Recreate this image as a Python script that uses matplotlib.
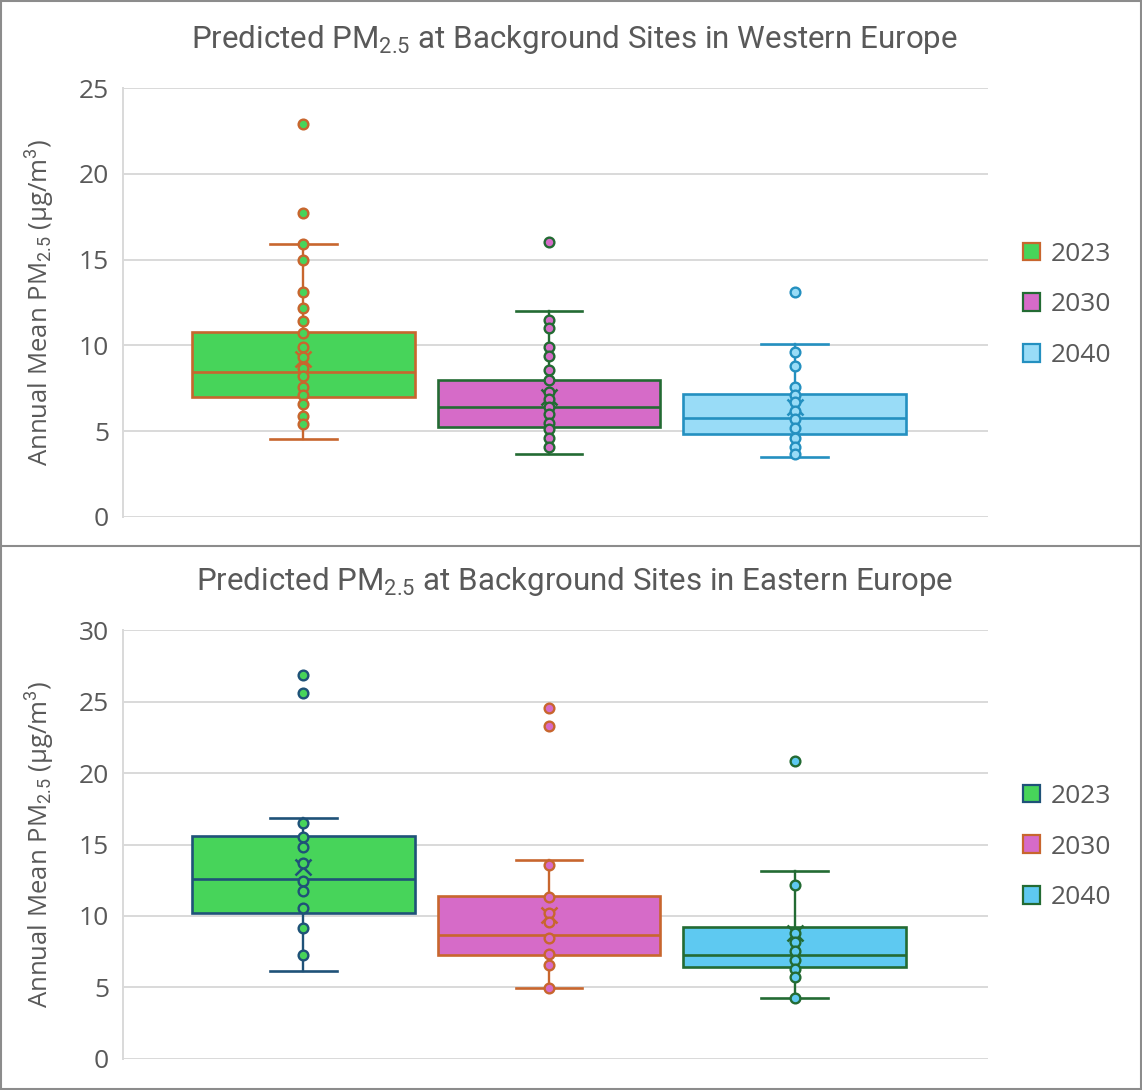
import matplotlib
matplotlib.use("Agg")
import matplotlib.pyplot as plt
from matplotlib.patches import Patch, Rectangle
from matplotlib.lines import Line2D

plt.rcParams['font.family'] = ['Open Sans', 'DejaVu Sans']
plt.rcParams['mathtext.fontset'] = 'custom'
plt.rcParams['mathtext.rm'] = 'Roboto'
plt.rcParams['mathtext.it'] = 'Roboto:italic'
plt.rcParams['mathtext.bf'] = 'Roboto:bold'

years = ["2023", "2030", "2040"]

# Western Europe: box statistics per year
west_q1 = [6.99, 5.26, 4.85]
west_median = [8.47, 6.41, 5.79]
west_q3 = [10.76, 7.97, 7.19]
west_whislo = [4.56, 3.69, 3.50]
west_whishi = [15.93, 12.02, 10.10]
west_mean = [9.19, 7.01, 6.43]
west_points_2023 = [22.9, 17.7, 15.9, 15.0, 13.1, 12.2, 11.4, 10.7, 9.9, 9.3,
                    8.7, 8.2, 7.6, 7.1, 6.6, 5.9, 5.4]
west_points_2030 = [16.0, 11.5, 11.0, 9.9, 9.4, 8.55, 8.0, 7.3, 6.9, 6.4,
                    6.0, 5.5, 5.1, 4.6, 4.1]
west_points_2040 = [13.1, 9.6, 8.8, 7.6, 7.1, 6.7, 6.2, 5.7, 5.2, 4.6, 4.1, 3.65]

# Eastern Europe: box statistics per year
east_q1 = [10.22, 7.24, 6.44]
east_median = [12.6, 8.69, 7.28]
east_q3 = [15.6, 11.39, 9.24]
east_whislo = [6.12, 4.93, 4.25]
east_whishi = [16.88, 13.89, 13.12]
east_mean = [13.45, 10.06, 8.78]
east_points_2023 = [26.9, 25.6, 16.5, 15.55, 14.85, 13.7, 12.45, 11.75, 10.55,
                    9.15, 7.25]
east_points_2030 = [24.55, 23.3, 13.55, 11.35, 10.2, 9.6, 8.45, 7.35, 6.55, 4.93]
east_points_2040 = [20.85, 12.15, 8.8, 8.2, 7.55, 6.9, 6.3, 5.7, 4.25]

west_ticks = [0, 5, 10, 15, 20, 25]
east_ticks = [0, 5, 10, 15, 20, 25, 30]

west_fill = ['#47D45A', '#D66BC8', '#99DCF7']
west_edge = ['#C8662E', '#236B33', '#2490C0']
east_fill = ['#47D45A', '#D66BC8', '#5EC9F1']
east_edge = ['#1F5278', '#C8662E', '#236B33']

TEXT = '#595959'
GRID = '#D9D9D9'

W, H = 1142, 1090
fig = plt.figure(figsize=(W / 100, H / 100), dpi=100)


def fx(px):
    return px / W


def fy(py):
    return 1 - py / H


AX_LEFT, AX_RIGHT = 123, 988


def panel(ax, title, q1, med, q3, lo, hi, mean, points, ticks, fills, edges,
          title_base, legend_y):
    positions = [0, 1, 2]
    for i in range(3):
        stats = [dict(q1=q1[i], med=med[i], q3=q3[i], whislo=lo[i],
                      whishi=hi[i], mean=mean[i], fliers=[])]
        ec = edges[i]
        ax.bxp(stats, positions=[positions[i]], widths=0.908, capwidths=0.27,
               patch_artist=True, showmeans=True, showfliers=False,
               boxprops=dict(facecolor=fills[i], edgecolor=ec, linewidth=1.9),
               medianprops=dict(color=ec, linewidth=1.9),
               whiskerprops=dict(color=ec, linewidth=1.7),
               capprops=dict(color=ec, linewidth=1.9),
               meanprops=dict(marker='x', markeredgecolor=ec, markersize=12,
                              markeredgewidth=1.8),
               zorder=3)
        ax.plot([positions[i]] * len(points[i]), points[i], linestyle='none',
                marker='o', markersize=7, markerfacecolor=fills[i],
                markeredgecolor=ec, markeredgewidth=1.7, zorder=4)
    ax.set_xlim(-0.735, 2.788)
    ax.set_ylim(ticks[0], ticks[-1])
    ax.set_yticks(ticks)
    ax.set_yticklabels([str(t) for t in ticks])
    ax.set_xticks([])
    ax.tick_params(axis='y', length=0, labelsize=19, labelcolor=TEXT, pad=10)
    ax.grid(axis='y', color=GRID, linewidth=1.4, zorder=0)
    ax.set_axisbelow(True)
    for name, s in ax.spines.items():
        if name == 'left':
            s.set_color(GRID)
            s.set_linewidth(1.4)
        else:
            s.set_visible(False)
    ax.set_ylabel('Annual Mean PM$_{2.5}$ ($\\mathregular{\\mu}$g/m$^{3}$)',
                  fontsize=18.5, color=TEXT)
    ax.yaxis.set_label_coords((56 - AX_LEFT) / (AX_RIGHT - AX_LEFT), 0.5)
    fig.text(0.503, fy(title_base), title, ha='center', va='baseline',
             fontsize=22.5, color=TEXT, family=['Roboto', 'DejaVu Sans'])
    handles = [Patch(facecolor=fills[i], edgecolor=edges[i], linewidth=1.6)
               for i in range(3)]
    fig.legend(handles, years, loc='center left',
               bbox_to_anchor=(fx(999), fy(legend_y)),
               bbox_transform=fig.transFigure, frameon=False, fontsize=19,
               labelcolor=TEXT, handlelength=0.65, handleheight=0.65,
               handletextpad=0.4, labelspacing=0.98)


ax1 = fig.add_axes([fx(AX_LEFT), fy(517), (AX_RIGHT - AX_LEFT) / W, (517 - 88) / H])
ax2 = fig.add_axes([fx(AX_LEFT), fy(1058.7), (AX_RIGHT - AX_LEFT) / W,
                    (1058.7 - 630.3) / H])

panel(ax1, 'Predicted PM$_{2.5}$ at Background Sites in Western Europe',
      west_q1, west_median, west_q3, west_whislo, west_whishi, west_mean,
      [west_points_2023, west_points_2030, west_points_2040], west_ticks,
      west_fill, west_edge, 48, 305)
panel(ax2, 'Predicted PM$_{2.5}$ at Background Sites in Eastern Europe',
      east_q1, east_median, east_q3, east_whislo, east_whishi, east_mean,
      [east_points_2023, east_points_2030, east_points_2040], east_ticks,
      east_fill, east_edge, 590, 847)

# Frame around both panels and the divider between them
fig.patches.append(Rectangle((0.001, 0.001), 0.998, 0.998, transform=fig.transFigure,
                             fill=False, edgecolor='#8C8C8C', linewidth=1.5))
fig.lines.append(Line2D([0, 1], [fy(546), fy(546)], transform=fig.transFigure,
                        color='#8C8C8C', linewidth=1.5))

fig.savefig('out.png', dpi=100)
